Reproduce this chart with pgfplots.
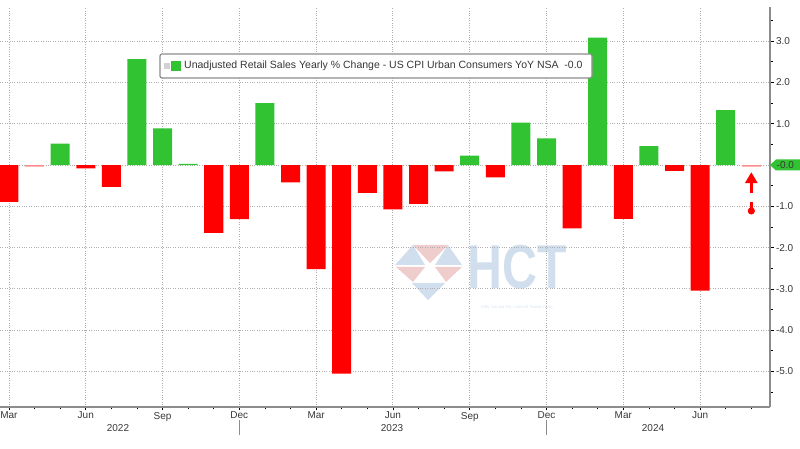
\documentclass[border=0pt]{standalone}
\usepackage{fontspec}
\setmainfont{Liberation Sans}
\usepackage{pgfplots}
\pgfplotsset{compat=1.18}
\usetikzlibrary{arrows.meta}
\definecolor{barGreen}{RGB}{50,195,50}
\definecolor{barRed}{RGB}{255,0,0}
\definecolor{barPink}{RGB}{255,140,140}
\definecolor{gridGray}{RGB}{175,175,175}
\definecolor{axisGray}{RGB}{140,140,140}
\definecolor{txt}{RGB}{55,55,55}
\definecolor{wmBlue}{RGB}{208,222,238}
\definecolor{wmPink}{RGB}{240,205,205}
\begin{document}
\begin{tikzpicture}
\path[use as bounding box] (0,0) rectangle (800pt,449pt);
% watermark logo (y_pt = 449 - y_px)
\fill[wmPink] (413pt,204pt) -- (448pt,204pt) -- (430pt,186pt) -- cycle;
\fill[wmBlue] (395pt,184pt) -- (413pt,204pt) -- (425pt,184pt) -- cycle;
\fill[wmBlue] (435pt,184pt) -- (448pt,204pt) -- (462pt,184pt) -- cycle;
\fill[wmPink] (396pt,182pt) -- (425pt,182pt) -- (413pt,167pt) -- cycle;
\fill[wmPink] (435pt,182pt) -- (462pt,182pt) -- (446pt,167pt) -- cycle;
\fill[wmBlue] (412pt,166pt) -- (445pt,166pt) -- (428pt,149pt) -- cycle;
\node[text=wmBlue, font=\bfseries\fontsize{62}{62}\selectfont, xscale=0.78, inner sep=0, anchor=base] at (517pt,160pt) {HCT};
\node[text=wmBlue, font=\fontsize{3.5}{4}\selectfont, inner sep=0, anchor=north] at (517pt,144pt) {KIẾN TẠO GIÁ TRỊ - CHIA SẺ THÀNH CÔNG};
\begin{axis}[
  at={(0pt,42pt)}, anchor=south west,
  scale only axis, width=770pt, height=400pt,
  xmin=-0.35, xmax=29.73, ymin=-5.86, ymax=3.83,
  axis x line*=bottom, axis y line*=right,
  axis line style={axisGray, line width=1.3pt},
  xtick={0,3,...,27},
  xticklabels={Mar,Jun,Sep,Dec,Mar,Jun,Sep,Dec,Mar,Jun},
  minor xtick={0,...,29},
  ytick={-5,-4,-3,-2,-1,1,2,3},
  minor ytick={-5.5,-4.5,...,3.5},
  yticklabel={\pgfmathprintnumber[fixed,fixed zerofill,precision=1]{\tick}},
  extra y ticks={0}, extra y tick labels={},
  extra y tick style={grid=major, major tick length=0pt},
  grid=major,
  major grid style={gridGray, dotted, line width=0.9pt},
  tick style={black, line width=0.8pt},
  major tick length=3.5pt, minor tick length=2.5pt,
  tick align=outside,
  ticklabel style={font=\fontsize{10}{11}\selectfont, text=txt},
  xticklabel style={yshift=2pt},
  yticklabel style={xshift=-1pt},
  /pgf/number format/assume math mode=true,
]
\addplot[ybar, bar width=19pt, bar shift=0pt, fill=barGreen, draw=none] coordinates {
 (2,0.52) (5,2.57) (6,0.89) (7,0.03) (10,1.50) (18,0.23) (20,1.03) (21,0.65) (23,3.09) (25,0.46) (28,1.33)};
\addplot[ybar, bar width=19pt, bar shift=0pt, fill=barRed, draw=none] coordinates {
 (0,-0.89) (3,-0.08) (4,-0.53) (8,-1.64) (9,-1.31) (11,-0.42) (12,-2.52) (13,-5.05) (14,-0.67) (15,-1.07) (16,-0.94) (17,-0.15) (19,-0.30) (22,-1.53) (24,-1.30) (26,-0.14) (27,-3.04)};
\addplot[ybar, bar width=19pt, bar shift=0pt, fill=barPink, draw=none] coordinates {
 (1,-0.035) (29,-0.035)};
% red arrow annotation
\draw[barRed, line width=3.5pt, -{Triangle[width=12pt,length=11pt]}] (axis cs:29,-0.68) -- (axis cs:29,-0.17);
\draw[barRed, line width=3.5pt] (axis cs:29,-0.90) -- (axis cs:29,-1.06);
\fill[barRed] (axis cs:29,-1.11) circle (3.6pt);
\end{axis}
% year labels and separators
\foreach \xx/\yr in {118/2022,392/2023,653/2024} {
  \node[font=\fontsize{10}{11}\selectfont, text=txt] at (\xx pt,21pt) {\yr};
}
\draw[axisGray, line width=0.6pt] (239.4pt,29pt) -- (239.4pt,14pt);
\draw[axisGray, line width=0.6pt] (546.6pt,29pt) -- (546.6pt,14pt);
% zero tag
\fill[barGreen] (770pt,284pt) -- (776pt,289.5pt) -- (800pt,289.5pt) -- (800pt,278.5pt) -- (776pt,278.5pt) -- cycle;
\node[anchor=west, inner sep=0, font=\fontsize{10}{11}\selectfont, text=txt] at (776.5pt,284pt) {-0.0};
% legend
\draw[axisGray, line width=1.2pt, rounded corners=2pt, fill=white] (160pt,371pt) rectangle (592pt,395pt);
\fill[gray!35] (164pt,380pt) rectangle (170pt,386pt);
\fill[barGreen] (171pt,378pt) rectangle (181pt,388pt);
\node[anchor=west, inner sep=0, font=\fontsize{10.5}{11}\selectfont, text=txt] at (184pt,383pt) {Unadjusted Retail Sales Yearly \% Change - US CPI Urban Consumers YoY NSA\ \ -0.0};
\end{tikzpicture}
\end{document}
